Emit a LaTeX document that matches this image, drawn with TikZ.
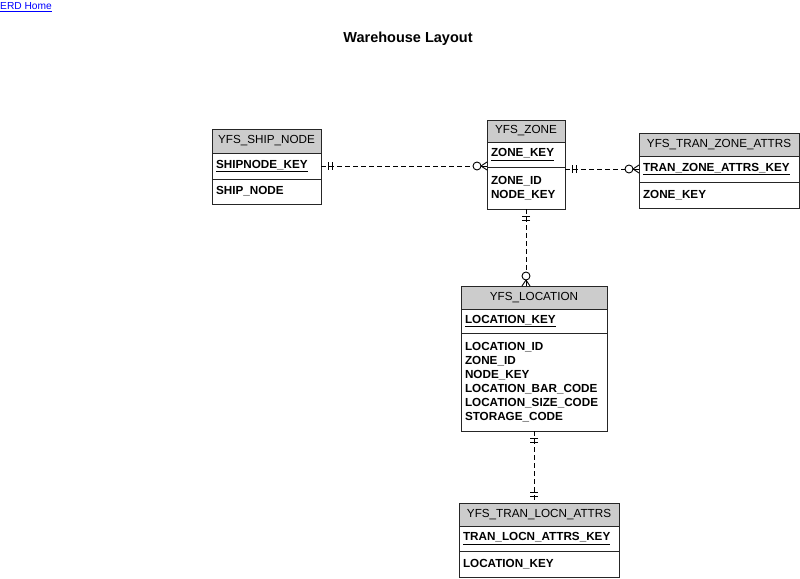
\documentclass[tikz,border=0pt]{standalone}
\usepackage{fontspec}
\setmainfont{Liberation Sans}
\usetikzlibrary{positioning}
\tikzset{
  tbl/.style={draw=black!85,line width=0.9pt,anchor=north west,inner sep=0pt,outer sep=0pt,
    font=\fontsize{11.7}{14}\selectfont},
  hd/.style={tbl,fill=black!20,align=center},
  fld/.style={tbl,inner xsep=4pt,align=left,font=\fontsize{11.7}{14}\selectfont\bfseries},
  rel/.style={draw=black,line width=0.9pt,dash pattern=on 5pt off 3pt},
  mone/.pic={
    \draw[line width=0.9pt] (7,-4) -- (7,4);
    \draw[line width=0.9pt] (11,-4) -- (11,4);
  },
  mmany/.pic={
    \draw[line width=0.9pt] (6,0) -- (0,-4);
    \draw[line width=0.9pt] (6,0) -- (0,0);
    \draw[line width=0.9pt] (6,0) -- (0,4);
    \draw[line width=0.9pt,fill=white] (10,0) circle (4pt);
  }
}
\begin{document}
\begin{tikzpicture}[x=1pt,y=-1pt]
  \useasboundingbox (0,0) rectangle (800,578);
  \node[anchor=west,inner sep=0pt,text=blue,font=\fontsize{10.2}{12}\selectfont] (home) at (0,7) {\underline{ERD Home}};
  \node[font=\fontsize{14.5}{16}\selectfont\bfseries] (title) at (408,39) {Warehouse Layout};

  % YFS_SHIP_NODE
  \node[hd,minimum width=109pt,minimum height=24pt] (shiphead) at (212,129) {YFS\_SHIP\_NODE};
  \node[fld,text width=101pt,minimum height=26pt] (shipkey) at (shiphead.south west) {\underline{SHIPNODE\_KEY}};
  \node[fld,text width=101pt,minimum height=25pt] (shipattr) at (shipkey.south west) {SHIP\_NODE};

  % YFS_ZONE
  \node[hd,minimum width=78pt,minimum height=22pt] (zonehead) at (487,120) {YFS\_ZONE};
  \node[fld,text width=70pt,minimum height=25pt] (zonekey) at (zonehead.south west) {\underline{ZONE\_KEY}};
  \node[fld,text width=70pt,minimum height=42pt] (zoneattr) at (zonekey.south west) {ZONE\_ID\\NODE\_KEY};

  % YFS_TRAN_ZONE_ATTRS
  \node[hd,minimum width=160pt,minimum height=23pt] (tzhead) at (639,133) {YFS\_TRAN\_ZONE\_ATTRS};
  \node[fld,text width=152pt,minimum height=26pt] (tzkey) at (tzhead.south west) {\underline{TRAN\_ZONE\_ATTRS\_KEY}};
  \node[fld,text width=152pt,minimum height=26pt] (tzattr) at (tzkey.south west) {ZONE\_KEY};

  % YFS_LOCATION
  \node[hd,minimum width=146pt,minimum height=23pt] (lochead) at (461,286) {YFS\_LOCATION};
  \node[fld,text width=138pt,minimum height=24pt] (lockey) at (lochead.south west) {\underline{LOCATION\_KEY}};
  \node[fld,text width=138pt,minimum height=98pt] (locattr) at (lockey.south west)
    {LOCATION\_ID\\ZONE\_ID\\NODE\_KEY\\LOCATION\_BAR\_CODE\\LOCATION\_SIZE\_CODE\\STORAGE\_CODE};

  % YFS_TRAN_LOCN_ATTRS
  \node[hd,minimum width=160pt,minimum height=23pt] (tlhead) at (459,503) {YFS\_TRAN\_LOCN\_ATTRS};
  \node[fld,text width=152pt,minimum height=25pt] (tlkey) at (tlhead.south west) {\underline{TRAN\_LOCN\_ATTRS\_KEY}};
  \node[fld,text width=152pt,minimum height=26pt] (tlattr) at (tlkey.south west) {LOCATION\_KEY};

  % relationships
  \coordinate (r1a) at (shipkey.east);
  \coordinate (r1b) at (shipkey.east -| zonekey.west);
  \draw[rel] (r1a) -- (r1b);
  \pic at (r1a) {mone};
  \pic[rotate=180] at (r1b) {mmany};

  \coordinate (r2a) at (tzkey.west -| zoneattr.east);
  \coordinate (r2b) at (tzkey.west);
  \draw[rel] (r2a) -- (r2b);
  \pic at (r2a) {mone};
  \pic[rotate=180] at (r2b) {mmany};

  \coordinate (r3a) at (zoneattr.south);
  \coordinate (r3b) at (zoneattr.south |- lochead.north);
  \draw[rel] (r3a) -- (r3b);
  \pic[rotate=-90] at (r3a) {mone};
  \pic[rotate=90] at (r3b) {mmany};

  \coordinate (r4a) at (locattr.south);
  \coordinate (r4b) at (locattr.south |- tlhead.north);
  \draw[rel] (r4a) -- (r4b);
  \pic[rotate=-90] at (r4a) {mone};
  \pic[rotate=90] at (r4b) {mone};
\end{tikzpicture}
\end{document}
